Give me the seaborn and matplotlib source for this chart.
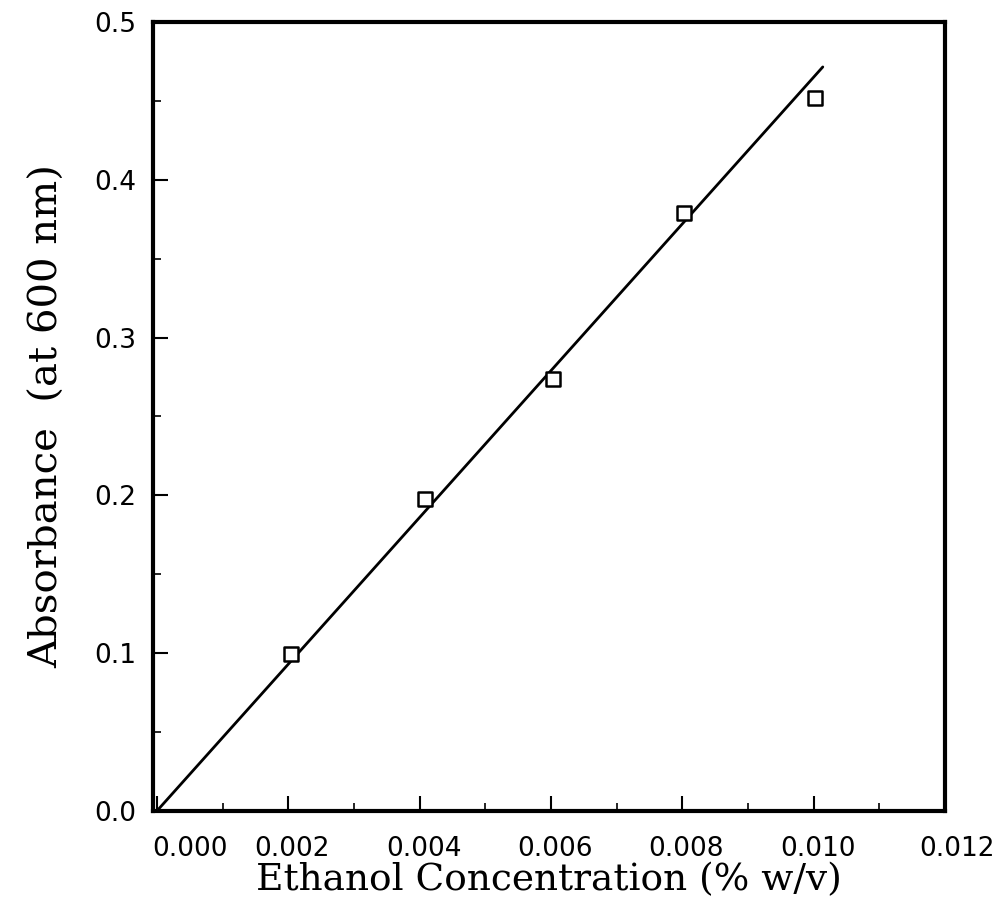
import numpy as np
import pandas as pd
import matplotlib
matplotlib.use("Agg")
import matplotlib.pyplot as plt
import matplotlib.transforms as mtransforms
import seaborn as sns

# Data
concentration = [0.00204, 0.00408, 0.00603, 0.00803, 0.01002]
absorbance = [0.0995, 0.1977, 0.2738, 0.3790, 0.4518]
fit_x = [0.0, 0.01014]
fit_y = [0.0, 0.4715]
x_ticks = [0.000, 0.002, 0.004, 0.006, 0.008, 0.010, 0.012]
x_tick_labels = ["0.000", "0.002", "0.004", "0.006", "0.008", "0.010", "0.012"]
y_ticks = [0.0, 0.1, 0.2, 0.3, 0.4, 0.5]
y_tick_labels = ["0.0", "0.1", "0.2", "0.3", "0.4", "0.5"]

sns.set_style("ticks")
plt.rcParams['font.family'] = ['DejaVu Sans']

fig = plt.figure(figsize=(10.01, 9.15), dpi=100)
ax = fig.add_axes([0.1528, 0.1137, 0.7912, 0.8623])

pts = pd.DataFrame({"x": concentration, "y": absorbance})
fit = pd.DataFrame({"x": fit_x, "y": fit_y})

sns.lineplot(data=fit, x="x", y="y", ax=ax, color="black", linewidth=2.0)
sns.scatterplot(data=pts, x="x", y="y", ax=ax, marker="s", s=110,
                facecolor="white", edgecolor="black", linewidth=1.8, zorder=3)

ax.set_xlim(-0.00006, 0.01200)
ax.set_ylim(0.0, 0.5)

ax.set_xticks(x_ticks)
ax.set_xticklabels(x_tick_labels, fontsize=19)
ax.set_yticks(y_ticks)
ax.set_yticklabels(y_tick_labels, fontsize=19)
ax.set_xticks(np.arange(0.001, 0.012, 0.002), minor=True)
ax.set_yticks([0.05, 0.15, 0.25, 0.35, 0.45], minor=True)

ax.tick_params(axis="both", which="major", direction="in", length=11, width=1.5, colors="black")
ax.tick_params(axis="both", which="minor", direction="in", length=6, width=1.2, colors="black")
ax.tick_params(axis="x", which="major", pad=18)
ax.tick_params(axis="y", which="major", pad=12)

for sp in ax.spines.values():
    sp.set_visible(True)
    sp.set_linewidth(3.0)
    sp.set_color("black")

# shift x tick labels slightly as in reference
labels = ax.get_xticklabels()
for i, lab in enumerate(labels):
    if i == 0:
        lab.set_horizontalalignment("left")
        dx = -5
    elif i == len(labels) - 1:
        dx = 12
    else:
        dx = 4
    lab.set_transform(lab.get_transform() + mtransforms.ScaledTranslation(dx / 100, 0, fig.dpi_scale_trans))

ax.set_xlabel("Ethanol Concentration (% w/v)", fontsize=27, family="DejaVu Serif",
              color="black", labelpad=0)
ax.set_ylabel("Absorbance  (at 600 nm)", fontsize=29, family="DejaVu Serif",
              color="black", labelpad=20)

fig.savefig("out.png", dpi=100, facecolor="white")
